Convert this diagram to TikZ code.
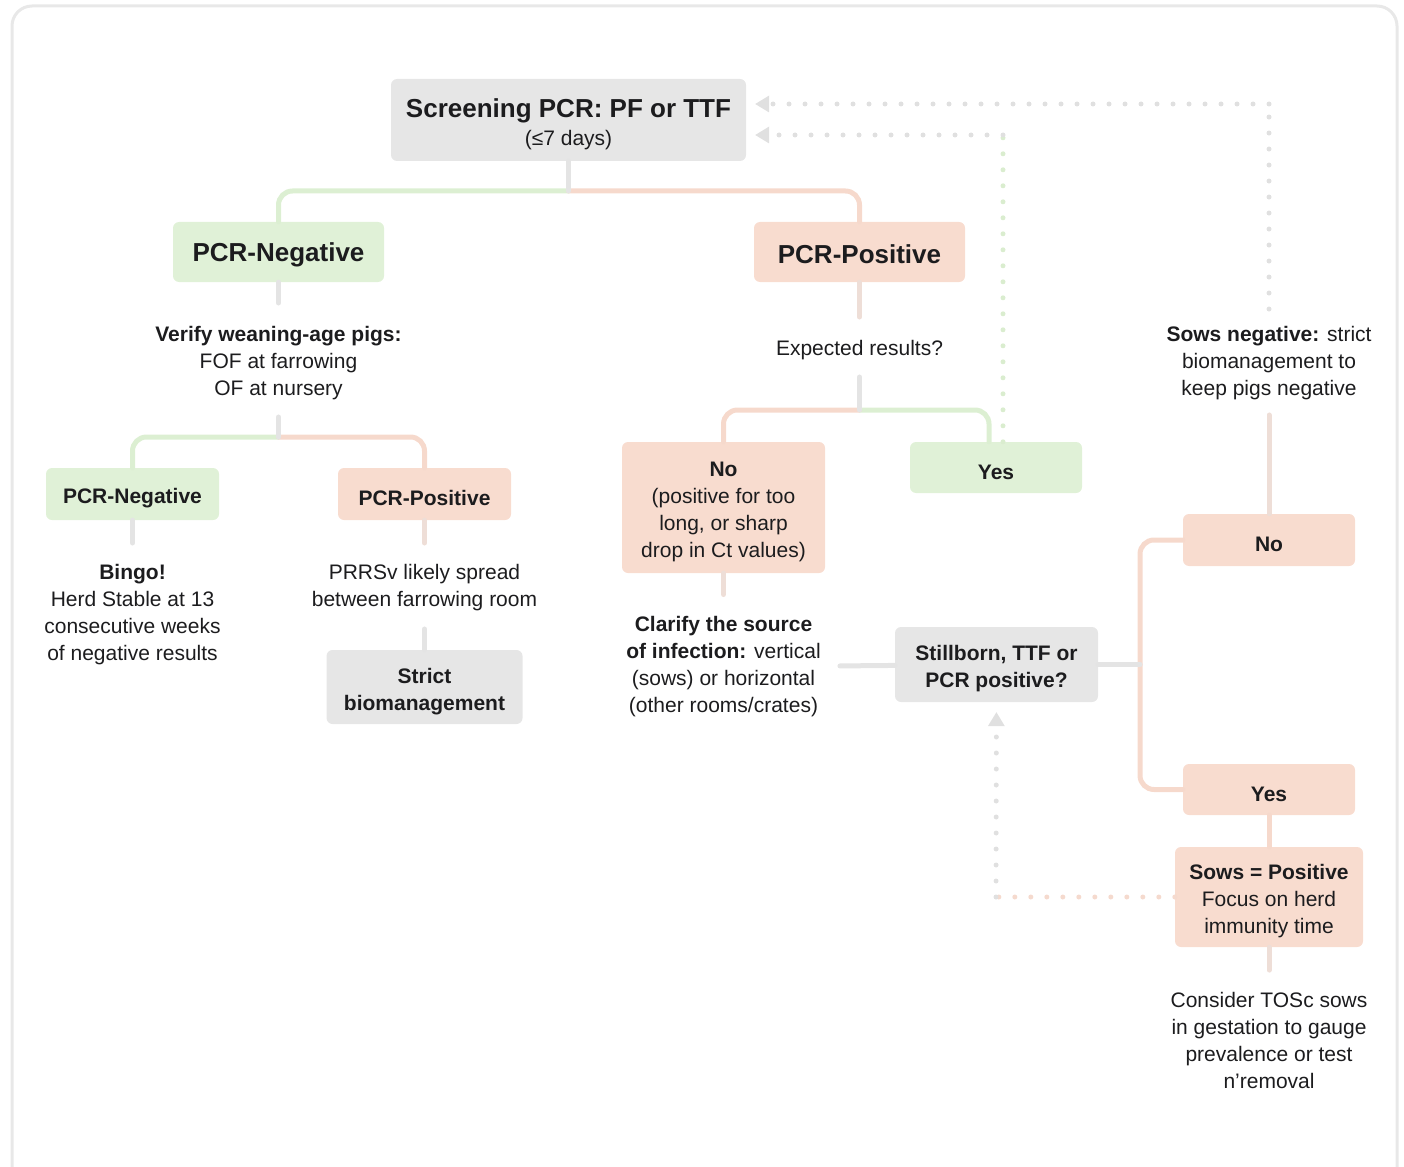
\documentclass[tikz,border=0pt]{standalone}
\usepackage{fontspec}
\setmainfont{Liberation Sans}
\usetikzlibrary{arrows.meta, positioning, calc}

\definecolor{boxgray}{HTML}{E6E6E6}
\definecolor{boxgreen}{HTML}{E0F1D7}
\definecolor{boxpeach}{HTML}{F8DCCF}
\definecolor{linegray}{HTML}{E4E4E4}
\definecolor{linegreen}{HTML}{DCEFD2}
\definecolor{linepeach}{HTML}{F6D9CC}
\definecolor{dotgray}{HTML}{E0E0E0}
\definecolor{dotgreen}{HTML}{DAEDCF}
\definecolor{dotpeach}{HTML}{F5DACE}
\definecolor{frameline}{HTML}{E8E8E8}
\definecolor{ink}{HTML}{1C1C1E}
\colorlet{stubpeach}{linepeach!55!linegray}

% strut that pushes box text a little lower
\newcommand{\tstrut}{\rule{0pt}{24pt}}

\begin{document}
\begin{tikzpicture}[x=1pt, y=-1pt,
  font=\fontsize{21}{27}\selectfont, text=ink,
  box/.style={rounded corners=6pt, align=center, inner sep=0pt,
              execute at begin node=\tstrut},
  greybox/.style={box, fill=boxgray},
  negbox/.style={box, fill=boxgreen},
  posbox/.style={box, fill=boxpeach},
  bold/.style={font=\fontsize{21}{27}\selectfont\bfseries},
  big/.style={font=\fontsize{26}{30}\selectfont\bfseries},
  note/.style={align=center, inner sep=0pt},
  link/.style={line width=5pt, line cap=round, rounded corners=14pt},
  greyl/.style={link, draw=linegray},
  negl/.style={link, draw=linegreen},
  posl/.style={link, draw=linepeach},
  posstub/.style={link, draw=stubpeach},
  dots/.style={line width=5pt, line cap=round, dash pattern=on 0pt off 16pt},
  back/.style={dots, draw=dotgray,
    -{Triangle[length=14pt, width=17pt, line width=0pt, fill=dotgray]}}
]
  \useasboundingbox (0,0) rectangle (1404,1166);
  % outer frame
  \draw[frameline, line width=3pt, rounded corners=20pt] (12,6) rectangle (1397,1195);

  % screening and first split
  \node[greybox, minimum width=355pt, minimum height=82pt] (screen) at (568.5,120)
    {\rule{0pt}{27pt}\textbf{\fontsize{26}{30}\selectfont Screening PCR: PF or TTF}\\[1pt](≤7 days)};
  \node[negbox, big, minimum width=211pt, minimum height=60pt] (neg1) at (278.5,252) {PCR-Negative};
  \node[posbox, big, minimum width=211pt, minimum height=60pt] (pos1) at (859.5,252) {PCR-Positive};

  % negative side
  \node[note] (verify) at (278.5,363)
    {\textbf{Verify weaning-age pigs:}\\FOF at farrowing\\OF at nursery};
  \node[negbox, bold, minimum width=173pt, minimum height=52pt] (neg2) at (132.5,494) {PCR-Negative};
  \node[posbox, bold, minimum width=173pt, minimum height=52pt] (pos2) at (424.5,494) {PCR-Positive};
  \node[note] (bingo) at (132.5,614.5)
    {\textbf{Bingo!}\\Herd Stable at 13\\consecutive weeks\\of negative results};
  \node[note] (spread) at (424.5,587.5) {PRRSv likely spread\\between farrowing room};
  \node[greybox, bold, minimum width=196pt, minimum height=74pt] (strict) at (424.5,687)
    {\tstrut Strict\\biomanagement};

  % positive side
  \node[note] (expect) at (859.5,350) {Expected results?};
  \node[posbox, minimum width=203pt, minimum height=131pt] (nocase) at (723.5,507.5)
    {\tstrut\textbf{No}\\(positive for too\\long, or sharp\\drop in Ct values)};
  \node[negbox, bold, minimum width=172pt, minimum height=51pt] (yes1) at (996,467.5) {Yes};
  \node[note] (clarify) at (723.5,667)
    {\textbf{Clarify the source}\\\textbf{of infection:} vertical\\(sows) or horizontal\\(other rooms/crates)};
  \node[greybox, bold, minimum width=203pt, minimum height=75pt] (stillborn) at (996.5,664.5)
    {\tstrut Stillborn, TTF or\\PCR positive?};

  % sows
  \node[note] (sowsneg) at (1269,363)
    {\textbf{Sows negative:} strict\\biomanagement to\\keep pigs negative};
  \node[posbox, bold, minimum width=172pt, minimum height=52pt] (no2) at (1269,540) {No};
  \node[posbox, bold, minimum width=172pt, minimum height=51pt] (yes2) at (1269,789.5) {Yes};
  \node[posbox, minimum width=188pt, minimum height=100pt] (sowspos) at (1269,897)
    {\tstrut\textbf{Sows = Positive}\\Focus on herd\\immunity time};
  \node[note] (consider) at (1269,1040.5)
    {Consider TOSc sows\\in gestation to gauge\\prevalence or test\\n’removal};

  % split points and loop corners
  \coordinate (s0) at (568.5,191);
  \coordinate (s1) at (278.5,437);
  \coordinate (s2) at (859.5,410);
  \coordinate (s3) at (1140,664.5);
  \coordinate (c1) at (1003,135);
  \coordinate (c2) at (1269,104);
  \coordinate (c3) at (996,897);

  % tree connectors
  \draw[negl] (s0) -| (neg1);
  \draw[posl] (s0) -| (pos1);
  \draw[greyl] (screen) -- (s0);

  \draw[greyl, shorten >=23pt] (neg1) -- (verify);
  \draw[negl] (s1) -| (neg2);
  \draw[posl] (s1) -| (pos2);
  \draw[greyl, shorten <=17pt] (verify) -- (s1);
  \draw[greyl, shorten >=21pt] (neg2) -- (bingo);
  \draw[posstub, shorten >=21pt] (pos2) -- (spread);
  \draw[greyl, shorten <=18pt] (spread) -- (strict);

  \draw[posstub, shorten >=23pt] (pos1) -- (expect);
  \draw[negl] (s2) -| ([xshift=-7pt]yes1.north);
  \draw[posl] (s2) -| (nocase);
  \draw[greyl, shorten <=17pt] (expect) -- (s2);
  \draw[posstub, shorten >=22pt] (nocase) -- (clarify);
  \draw[greyl, shorten >=19pt] (stillborn) -- (clarify);

  \draw[posl] (s3) |- (no2);
  \draw[posl] (s3) |- (yes2);
  \draw[greyl] (stillborn) -- (s3);
  \draw[posstub, shorten <=15pt] (sowsneg) -- (no2);
  \draw[posl] (yes2) -- (sowspos);
  \draw[posstub, shorten >=22pt] (sowspos) -- (consider);

  % dotted loops back
  \draw[dots, draw=dotgreen] ([xshift=7pt]yes1.north) -- (c1);
  \draw[back, shorten >=9pt] (c1) -- (c1 -| screen.east);
  \draw[dots, draw=dotgray] ([yshift=17pt]sowsneg.north) -- (c2);
  \draw[back, shorten >=9pt] (c2) -- (c2 -| screen.east);
  \draw[dots, draw=dotpeach] (sowspos) -- (c3);
  \draw[back, shorten >=10pt] (c3) -- (stillborn);
\end{tikzpicture}
\end{document}
